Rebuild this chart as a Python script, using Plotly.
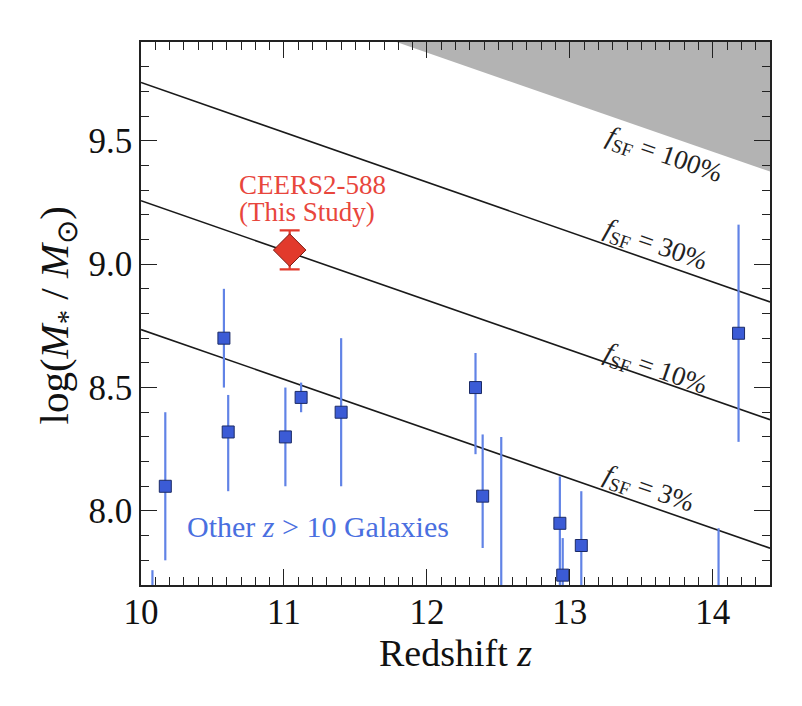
import plotly.graph_objects as go

# ---------------- data ----------------
# other z>10 galaxies (visible squares)
z_other = [10.17, 10.58, 10.61, 11.01, 11.12, 11.40, 12.34, 12.39, 12.93, 12.95, 13.08, 14.18]
m_other = [8.10, 8.70, 8.32, 8.30, 8.46, 8.40, 8.50, 8.06, 7.95, 7.74, 7.86, 8.72]
err_up_other = [0.30, 0.20, 0.15, 0.20, 0.06, 0.30, 0.14, 0.25, 0.19, 0.15, 0.22, 0.44]
err_dn_other = [0.30, 0.20, 0.24, 0.20, 0.06, 0.30, 0.27, 0.21, 0.26, 0.15, 0.22, 0.44]

# galaxies whose points fall below the plotted range (only error bars visible)
z_low = [10.08, 12.52, 14.04]
m_low = [7.45, 7.60, 7.55]
err_up_low = [0.31, 0.70, 0.38]
err_dn_low = [0.31, 0.70, 0.38]

# CEERS2-588
z_ceers = [11.04]
m_ceers = [9.057]
err_up_ceers = [0.08]
err_dn_ceers = [0.078]

# constant f_SF lines, evaluated at the two ends of the redshift range
line_z = [10.0, 14.4]
f_labels = ["100%", "30%", "10%", "3%"]
f_line_m = {
    "100%": [10.259, 9.375],
    "30%": [9.736, 8.847],
    "10%": [9.257, 8.370],
    "3%": [8.735, 7.849],
}
excluded_top = [10.6, 10.6]

x_ticks = [10, 11, 12, 13, 14]
y_ticks = [8.0, 8.5, 9.0, 9.5]

FONT = "Liberation Serif"
BLUE_BAR = "#6183e6"
BLUE_FILL = "#3b5bd6"
RED = "#e23a2c"

fig = go.Figure()

# excluded region (f_SF > 100%)
fig.add_trace(go.Scatter(x=line_z, y=f_line_m["100%"], mode="lines",
                         line=dict(width=0, color="#b3b3b3"), hoverinfo="skip",
                         showlegend=False))
fig.add_trace(go.Scatter(x=line_z, y=excluded_top, mode="lines", fill="tonexty",
                         fillcolor="#b3b3b3", line=dict(width=0, color="#b3b3b3"),
                         hoverinfo="skip", showlegend=False))

# f_SF lines
for lab in f_labels[1:]:
    fig.add_trace(go.Scatter(x=line_z, y=f_line_m[lab], mode="lines",
                             line=dict(color="#1a1a1a", width=1.6),
                             hoverinfo="skip", showlegend=False))

# out-of-range galaxies (bars only)
fig.add_trace(go.Scatter(
    x=z_low, y=m_low, mode="markers",
    marker=dict(symbol="square", size=12, color=BLUE_FILL,
                line=dict(color="#1c2b66", width=1)),
    error_y=dict(type="data", symmetric=False, array=err_up_low, arrayminus=err_dn_low,
                 color=BLUE_BAR, thickness=2.2, width=0),
    showlegend=False))

# other galaxies
fig.add_trace(go.Scatter(
    x=z_other, y=m_other, mode="markers",
    marker=dict(symbol="square", size=12, color=BLUE_FILL,
                line=dict(color="#1c2b66", width=1)),
    error_y=dict(type="data", symmetric=False, array=err_up_other, arrayminus=err_dn_other,
                 color=BLUE_BAR, thickness=2.2, width=0),
    showlegend=False))

# CEERS2-588
fig.add_trace(go.Scatter(
    x=z_ceers, y=m_ceers, mode="markers",
    marker=dict(symbol="diamond", size=25, color=RED,
                line=dict(color="#7a1a12", width=1)),
    error_y=dict(type="data", symmetric=False, array=err_up_ceers, arrayminus=err_dn_ceers,
                 color=RED, thickness=2.2, width=10),
    showlegend=False))

# annotations
ann = []
label_pos = {"100%": (13.66, 9.44), "30%": (13.60, 9.074), "10%": (13.60, 8.57), "3%": (13.55, 8.085)}
for lab in f_labels:
    zx, my = label_pos[lab]
    ann.append(dict(x=zx, y=my, xref="x", yref="y",
                    text="<i>f</i><sub>SF</sub> = " + lab,
                    showarrow=False, textangle=19.2,
                    font=dict(family=FONT, size=27, color="#222222")))
ann.append(dict(x=10.67, y=9.322, xref="x", yref="y", xanchor="left",
                text="CEERS2-588", showarrow=False,
                font=dict(family=FONT, size=27, color="#e8463c")))
ann.append(dict(x=10.67, y=9.212, xref="x", yref="y", xanchor="left",
                text="(This Study)", showarrow=False,
                font=dict(family=FONT, size=27, color="#e8463c")))
ann.append(dict(x=11.24, y=7.936, xref="x", yref="y",
                text="Other <i>z</i> > 10 Galaxies", showarrow=False,
                font=dict(family=FONT, size=30, color="#4a6fe0")))
ann.append(dict(x=-0.133, y=0.497, xref="paper", yref="paper",
                xanchor="center", yanchor="middle",
                text="log(<i>M</i><sub>*</sub> / <i>M</i><sub>⊙</sub>)",
                showarrow=False, textangle=-90,
                font=dict(family=FONT, size=41, color="#111111")))
ann.append(dict(x=0.5, y=-0.083, xref="paper", yref="paper",
                xanchor="center", yanchor="top",
                text="Redshift <i>z</i>", showarrow=False,
                font=dict(family=FONT, size=38, color="#111111")))
fig.update_layout(annotations=ann)

axis_common = dict(showgrid=False, zeroline=False, showline=True, linecolor="#222222",
                   linewidth=1.6, mirror="ticks", ticks="inside", tickcolor="#222222",
                   tickwidth=1.4, ticklen=16,
                   tickfont=dict(family=FONT, size=35, color="#111111"))

fig.update_xaxes(range=[10.0, 14.4], tickvals=x_ticks, ticktext=[str(v) for v in x_ticks],
                 ticklabelstandoff=-5,
                 minor=dict(dtick=0.1, ticks="inside", ticklen=8, tickwidth=1.2,
                            tickcolor="#222222", showgrid=False),
                 **axis_common)
fig.update_yaxes(range=[7.7, 9.9], tickvals=y_ticks, ticktext=[f"{v:.1f}" for v in y_ticks],
                 minor=dict(dtick=0.1, ticks="inside", ticklen=8, tickwidth=1.2,
                            tickcolor="#222222", showgrid=False),
                 **axis_common)

fig.update_layout(width=802, height=706, margin=dict(l=141, r=32, t=42, b=121),
                  plot_bgcolor="white", paper_bgcolor="white", showlegend=False)

fig.write_html("out.html")
